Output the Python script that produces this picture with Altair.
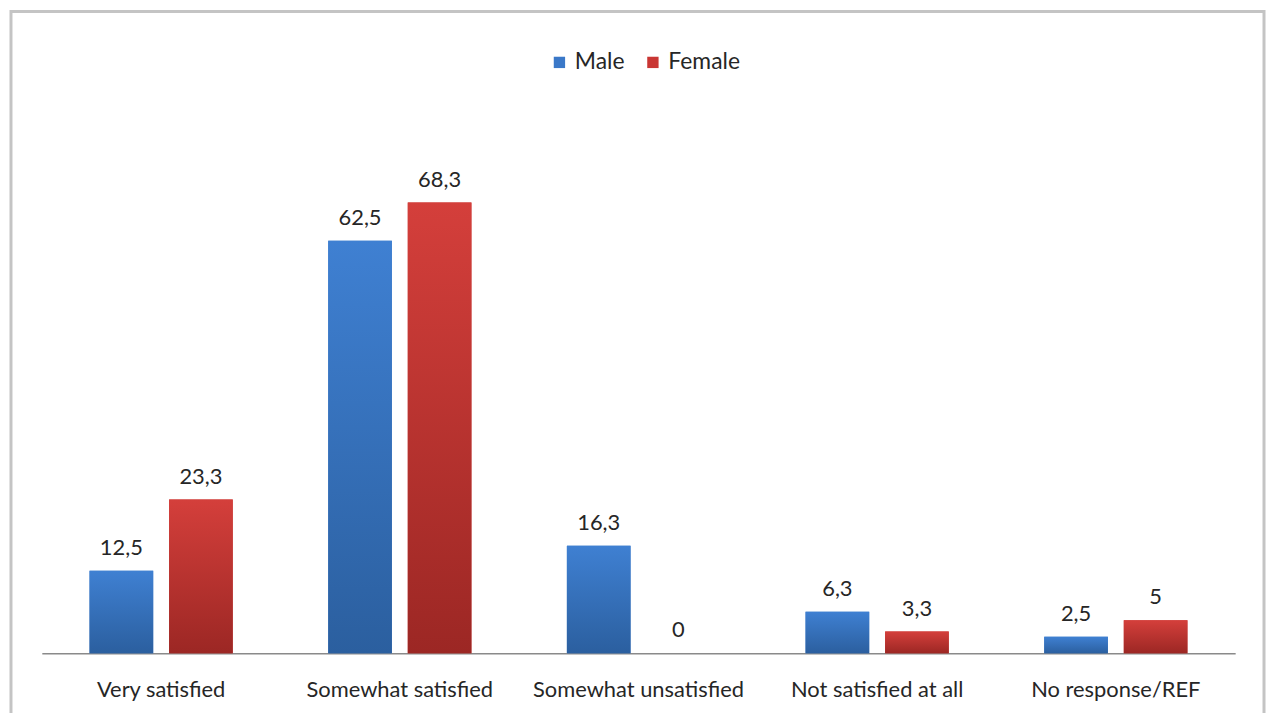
import altair as alt
import pandas as pd

categories = ["Very satisfied", "Somewhat satisfied", "Somewhat unsatisfied",
              "Not satisfied at all", "No response/REF"]
male = [12.5, 62.5, 16.3, 6.3, 2.5]
female = [23.3, 68.3, 0, 3.3, 5]
series = ["Male", "Female"]
colors = ["#3a78c8", "#c93633"]

rows = []
for c, m, f in zip(categories, male, female):
    for g, v in (("Male", m), ("Female", f)):
        rows.append({"cat": c, "g": g, "v": v, "label": f"{v:g}".replace(".", ",")})
df = pd.DataFrame(rows)

FONT = "Lato"

grad_m = alt.Gradient(gradient="linear", x1=0, x2=0, y1=0, y2=1,
                      stops=[alt.GradientStop(color="#3f80d2", offset=0),
                             alt.GradientStop(color="#2b5f9f", offset=1)])
grad_f = alt.Gradient(gradient="linear", x1=0, x2=0, y1=0, y2=1,
                      stops=[alt.GradientStop(color="#d43f3b", offset=0),
                             alt.GradientStop(color="#9c2724", offset=1)])

x_enc = alt.X("cat:N", sort=categories, title=None,
              scale=alt.Scale(paddingInner=0.4, paddingOuter=0.2),
              axis=alt.Axis(labelAngle=0, ticks=False, domainColor="#8a8a8a",
                            domainWidth=1.5, labelFontSize=22, labelFont=FONT,
                            labelColor="#262626", labelPadding=26, labelLimit=0,
                            grid=False))
xo = alt.XOffset("g:N", sort=series, scale=alt.Scale(paddingInner=0.2, paddingOuter=0))
y_enc = alt.Y("v:Q", axis=None, scale=alt.Scale(domain=[0, 80]))

base = alt.Chart(df)

frame = alt.Chart(pd.DataFrame({"a": [0]})).mark_rect(
    fill=None, stroke="#c4c4c4", strokeWidth=3
).encode(x=alt.value(-31), x2=alt.value(1229), y=alt.value(-114.5), y2=alt.value(640))

bars_legend = base.mark_bar().encode(
    x=x_enc, xOffset=xo, y=y_enc,
    color=alt.Color("g:N", sort=series,
                    scale=alt.Scale(domain=series, range=colors),
                    legend=alt.Legend(title=None, orient="none", direction="horizontal",
                                      legendX=509, legendY=-75, symbolType="square",
                                      symbolSize=130, labelFontSize=23, labelFont=FONT,
                                      labelColor="#262626", columnPadding=16,
                                      labelOffset=4, symbolStrokeWidth=0)),
)

bars_grad = base.mark_bar().encode(
    x=x_enc, xOffset=xo, y=y_enc,
    color=alt.condition("datum.g == 'Male'", alt.value(grad_m), alt.value(grad_f)),
)

text = base.mark_text(baseline="bottom", dy=-11, fontSize=22, font=FONT,
                      color="#262626").encode(
    x=x_enc, xOffset=xo, y=y_enc, text="label:N")

chart = alt.layer(frame, bars_legend, bars_grad, text).properties(
    width=1200, height=531,
    autosize=alt.AutoSizeParams(type="none"),
    padding={"left": 34, "top": 116, "right": 31, "bottom": 58},
    background="white",
).configure_view(stroke=None)

chart.save("out.html", embed_options={"renderer": "svg", "actions": False})
